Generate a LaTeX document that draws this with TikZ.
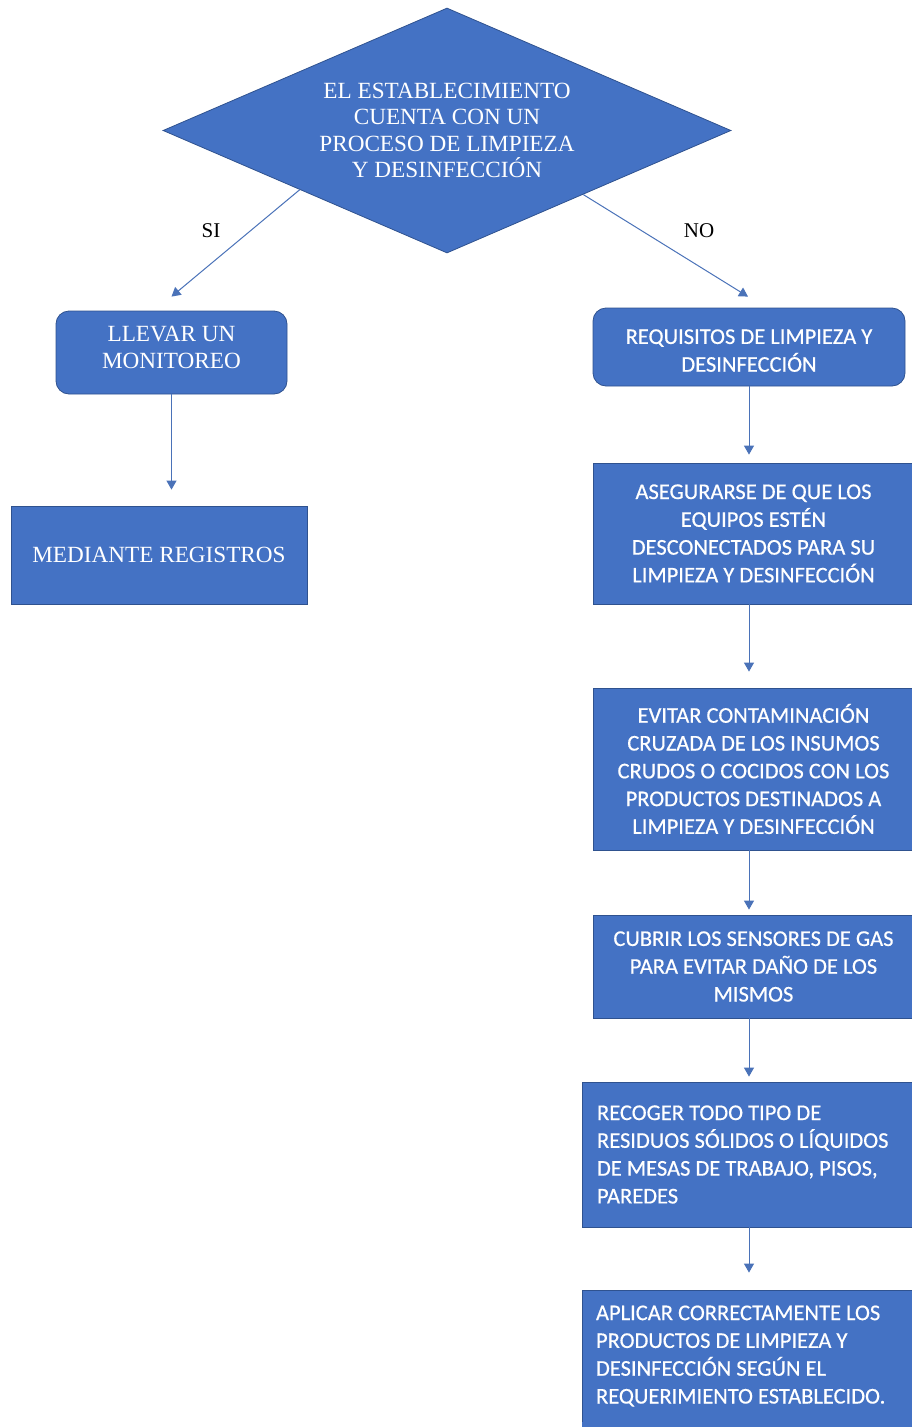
\documentclass[tikz,border=0pt]{standalone}
\usepackage{fontspec}
\setmainfont{Liberation Serif}
\newfontfamily\calib[FakeBold=0.5]{Carlito}
\usetikzlibrary{shapes.geometric,arrows.meta,calc}
\definecolor{boxblue}{HTML}{4472C4}
\definecolor{boxedge}{HTML}{2F528F}
\definecolor{arrcol}{HTML}{4A72B8}
\tikzset{
  serifbox/.style={fill=boxblue,draw=boxedge,line width=0.8pt,text=white,align=center,
     font=\fontsize{23.2}{26.5}\selectfont,inner sep=0pt},
  calbox/.style={fill=boxblue,draw=boxedge,line width=0.8pt,text=white,align=center,
     font=\calib\fontsize{22.5}{27.8}\selectfont,inner sep=0pt},
  arr/.style={draw=arrcol,line width=1pt,-{Triangle[width=10pt,length=9pt]}},
  lbl/.style={font=\fontsize{21}{25}\selectfont,text=black,inner sep=0pt}
}
\begin{document}
\begin{tikzpicture}[x=1pt,y=-1pt]
\useasboundingbox (0,0) rectangle (912,1427);
% decision
\node[serifbox,shape=diamond,aspect=2.32,minimum width=568pt,minimum height=245pt] (d) at (447,130.5)
  {EL ESTABLECIMIENTO\\CUENTA CON UN\\PROCESO DE LIMPIEZA\\Y DESINFECCIÓN};
% left branch
\node[serifbox,rounded corners=13pt,minimum width=231pt,minimum height=83pt] (l1) at (171.5,352.5)
  {LLEVAR UN\\MONITOREO\\[-16.5pt]};
\node[serifbox,minimum width=296pt,minimum height=98pt] (l2) at (159,555)
  {MEDIANTE REGISTROS};
% right branch
\node[calbox,rounded corners=13pt,minimum width=312pt,minimum height=78pt] (r1) at (749,347)
  {\\[-6pt]REQUISITOS DE LIMPIEZA Y\\DESINFECCIÓN};
\node[calbox,minimum width=321pt,minimum height=141pt] (r2) at (753.5,533.5)
  {ASEGURARSE DE QUE LOS\\EQUIPOS ESTÉN\\DESCONECTADOS PARA SU\\LIMPIEZA Y DESINFECCIÓN};
\node[calbox,minimum width=321pt,minimum height=162pt] (r3) at (753.5,769)
  {EVITAR CONTAMINACIÓN\\CRUZADA DE LOS INSUMOS\\CRUDOS O COCIDOS CON LOS\\PRODUCTOS DESTINADOS A\\LIMPIEZA Y DESINFECCIÓN};
\node[calbox,minimum width=321pt,minimum height=103pt] (r4) at (753.5,966.5)
  {CUBRIR LOS SENSORES DE GAS\\PARA EVITAR DAÑO DE LOS\\MISMOS};
\node[calbox,align=flush left,text width=302pt,inner xsep=15pt,minimum height=145pt] (r5) at (748,1154.5)
  {RECOGER TODO TIPO DE\\RESIDUOS SÓLIDOS O LÍQUIDOS\\DE MESAS DE TRABAJO, PISOS,\\PAREDES};
\node[calbox,align=flush left,text width=304pt,inner xsep=14pt,minimum height=132pt] (r6) at (748,1356)
  {APLICAR CORRECTAMENTE LOS\\PRODUCTOS DE LIMPIEZA Y\\DESINFECCIÓN SEGÚN EL\\REQUERIMIENTO ESTABLECIDO.};
\fill[boxblue] (r6.south west) rectangle ([yshift=-10pt]r6.south east);
% labels
\node[lbl] (si) at (211,231) {SI};
\node[lbl] (no) at (699,231) {NO};
% connectors
\coordinate (dsi) at ($(d.west)!0.482!(d.south)$);
\coordinate (dno) at ($(d.east)!0.521!(d.south)$);
\draw[arr] (dsi) -- ([yshift=14pt]l1.north);
\draw[arr] (dno) -- ([yshift=11pt,xshift=-1pt]r1.north);
\draw[arr] (l1.south) -- ([yshift=16pt]l1.south |- l2.north);
\draw[arr] (r1.south) -- ([yshift=8pt]r1.south |- r2.north);
\draw[arr] (r1.south |- r2.south) -- ([yshift=16pt]r1.south |- r3.north);
\draw[arr] (r1.south |- r3.south) -- ([yshift=5pt]r1.south |- r4.north);
\draw[arr] (r1.south |- r4.south) -- ([yshift=5pt]r1.south |- r5.north);
\draw[arr] (r1.south |- r5.south) -- ([yshift=17pt]r1.south |- r6.north);
\end{tikzpicture}
\end{document}
